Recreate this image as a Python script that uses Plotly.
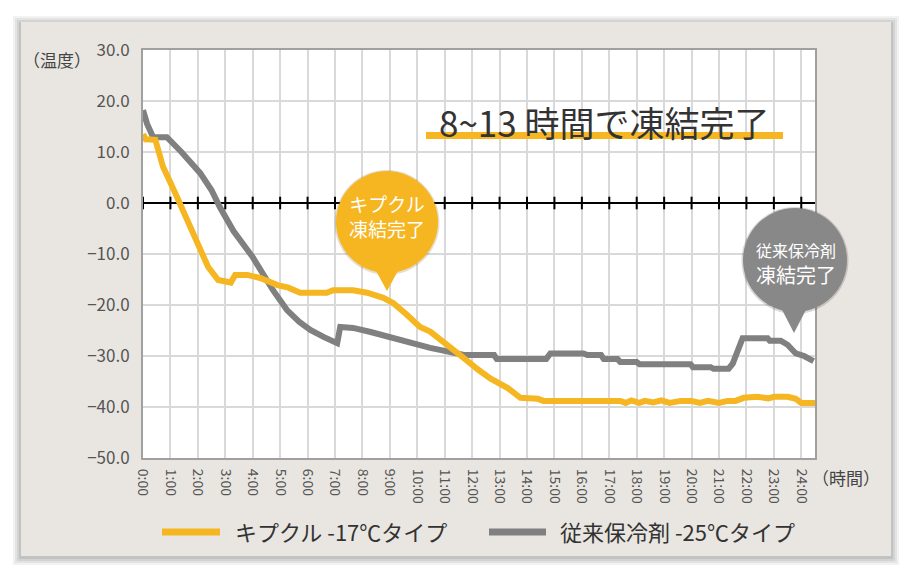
import plotly.graph_objects as go

# ---------------- data ----------------
kipukuru_hours = [0.0, 0.1, 0.45, 0.73, 1.17, 1.6, 2.08, 2.37, 2.74, 3.06, 3.2, 3.36, 3.8, 4.27,
                  4.9, 5.3, 5.73, 6.7, 6.93, 7.66, 8.17, 8.76, 9.12, 9.6, 10.1, 10.47, 11.0,
                  11.7, 12.2, 12.66, 13.3, 13.76, 14.4, 14.6, 17.4, 17.6, 17.8, 18.1, 18.3,
                  18.6, 18.9, 19.2, 19.6, 20.0, 20.3, 20.6, 21.0, 21.3, 21.6, 21.9, 22.4,
                  22.8, 23.0, 23.5, 23.8, 24.0, 24.5]
kipukuru_temps = [13.5, 12.5, 12.4, 7.1, 2.0, -3.3, -9.2, -12.5, -15.1, -15.5, -15.6, -14.1, -14.1,
                  -14.7, -16.1, -16.6, -17.6, -17.6, -17.1, -17.1, -17.6, -18.6, -19.6, -21.8,
                  -24.3, -25.2, -27.6, -30.4, -32.6, -34.4, -36.3, -38.2, -38.4, -38.8, -38.8,
                  -39.2, -38.7, -39.2, -38.8, -39.1, -38.7, -39.2, -38.8, -38.8, -39.2, -38.8,
                  -39.2, -38.8, -38.8, -38.2, -38.0, -38.3, -38.0, -38.0, -38.4, -39.2, -39.2]

conventional_hours = [0.0, 0.15, 0.37, 0.87, 1.4, 2.08, 2.5, 2.8, 3.3, 4.0, 4.74, 5.25, 5.7, 6.1,
                      6.6, 7.08, 7.19, 7.66, 8.3, 8.9, 9.5, 10.1, 10.47, 11.0, 11.7, 12.8, 12.9,
                      14.7, 14.85, 16.06, 16.2, 16.7, 16.8, 17.3, 17.4, 18.0, 18.1, 19.96, 20.05,
                      20.7, 20.8, 21.35, 21.5, 21.86, 22.77, 22.85, 23.25, 23.5, 23.8, 24.1, 24.45]
conventional_temps = [18.2, 15.5, 12.9, 12.9, 10.0, 5.9, 2.5, -0.8, -5.5, -10.6, -17.1, -21.0,
                      -23.3, -24.9, -26.3, -27.5, -24.3, -24.5, -25.3, -26.2, -27.0, -27.8, -28.4,
                      -29.0, -29.8, -29.8, -30.6, -30.6, -29.5, -29.5, -29.8, -29.8, -30.6, -30.6,
                      -31.2, -31.2, -31.6, -31.6, -32.2, -32.2, -32.5, -32.5, -31.5, -26.5, -26.5,
                      -27.0, -27.0, -27.8, -29.5, -30.0, -31.0]

x_tick_hours = list(range(0, 25))
x_tick_labels = [f"{h}:00" for h in x_tick_hours]
y_tick_values = [30, 20, 10, 0, -10, -20, -30, -40, -50]
y_tick_labels = ["30.0", "20.0", "10.0", "0.0", "\u221210.0", "\u221220.0", "\u221230.0",
                 "\u221240.0", "\u221250.0"]

series_names = ["キプクル -17℃タイプ", "従来保冷剤 -25℃タイプ"]
YELLOW = "#F5B621"
GRAY = "#808080"
FONT = "Noto Sans CJK JP"

# ---------------- geometry helpers (pixel -> paper) ----------------
W, H = 913, 577
L, R, T, B = 143, 815, 50, 458


def px(x):
    return (x - L) / (R - L)


def py(y):
    return (B - y) / (B - T)


def rect(x0, y0, x1, y1, **kw):
    return dict(type="rect", xref="paper", yref="paper", x0=px(x0), x1=px(x1),
                y0=py(y1), y1=py(y0), **kw)


def circle(cx, cy, r, **kw):
    return dict(type="circle", xref="paper", yref="paper", x0=px(cx - r), x1=px(cx + r),
                y0=py(cy + r), y1=py(cy - r), **kw)


def path(points, **kw):
    d = "M " + " L ".join(f"{px(a):.5f},{py(b):.5f}" for a, b in points) + " Z"
    return dict(type="path", xref="paper", yref="paper", path=d, **kw)


fig = go.Figure()

fig.add_trace(go.Scatter(x=conventional_hours, y=conventional_temps, mode="lines",
                         name=series_names[1], line=dict(color=GRAY, width=6), showlegend=False))
fig.add_trace(go.Scatter(x=kipukuru_hours, y=kipukuru_temps, mode="lines", name=series_names[0],
                         line=dict(color=YELLOW, width=6), showlegend=False))
# tick marks on the zero line
fig.add_trace(go.Scatter(x=x_tick_hours, y=[0] * len(x_tick_hours), mode="markers",
                         marker=dict(symbol="line-ns", size=9, line=dict(color="black", width=2)),
                         showlegend=False, hoverinfo="skip", cliponaxis=False))

shapes = []
# panel shadow
for i, op in enumerate([0.05, 0.06, 0.07, 0.08]):
    d = 8 - 2 * i
    shapes.append(rect(21 - d, 22 - d + 2, 891 + d, 556 + d + 1, fillcolor=f"rgba(0,0,0,{op})",
                       line=dict(width=0), layer="below"))
shapes.append(rect(21, 22, 891, 556, fillcolor="#E9E6E1", line=dict(width=0), layer="below"))
shapes.append(rect(L, T, R, B, fillcolor="white", line=dict(width=0), layer="below"))

# title underline bar
shapes.append(rect(426, 132, 783, 139, fillcolor=YELLOW, line=dict(width=0), layer="above"))

# yellow bubble
shapes.append(circle(387, 222.5, 52.5, fillcolor="rgba(110,70,0,0.18)", line=dict(width=0),
                     layer="above"))
shapes.append(path([(369, 258), (387, 291), (405, 258)], fillcolor=YELLOW, line=dict(width=0),
                   layer="above"))
shapes.append(circle(387, 222, 51, fillcolor=YELLOW, line=dict(width=0), layer="above"))

# gray bubble
shapes.append(circle(795, 260.5, 53.5, fillcolor="rgba(40,30,30,0.18)", line=dict(width=0),
                     layer="above"))
shapes.append(path([(777, 300), (794, 333), (811, 300)], fillcolor="#888888", line=dict(width=0),
                   layer="above"))
shapes.append(circle(795, 260, 52, fillcolor="#888888", line=dict(width=0), layer="above"))

# legend samples
shapes.append(dict(type="line", xref="paper", yref="paper", x0=px(162), x1=px(220), y0=py(532),
                   y1=py(532), line=dict(color=YELLOW, width=7)))
shapes.append(dict(type="line", xref="paper", yref="paper", x0=px(489), x1=px(546), y0=py(532),
                   y1=py(532), line=dict(color=GRAY, width=7)))

annotations = [
    dict(text="8~13 時間で凍結完了", x=px(604), y=py(121), font=dict(size=35, color="#333333")),
    dict(text="キプクル<br>凍結完了", x=px(387), y=py(216), font=dict(size=19, color="white")),
    dict(text="<span style='font-size:16px'>従来保冷剤</span><br>凍結完了", x=px(796), y=py(263),
         font=dict(size=20, color="white")),
    dict(text="（温度）", x=px(57), y=py(59), font=dict(size=17, color="#444444")),
    dict(text="（時間）", x=px(846), y=py(477), font=dict(size=17, color="#444444")),
    dict(text=series_names[0], x=px(233), y=py(531), xanchor="left",
         font=dict(size=22, color="#333333")),
    dict(text=series_names[1], x=px(558), y=py(531), xanchor="left",
         font=dict(size=22, color="#333333")),
]
for a in annotations:
    a.setdefault("xanchor", "center")
    a.update(xref="paper", yref="paper", yanchor="middle", showarrow=False)
    a["font"]["family"] = FONT

fig.update_layout(
    width=W, height=H,
    margin=dict(l=L, r=W - R, t=T, b=H - B, pad=0),
    paper_bgcolor="white", plot_bgcolor="white",
    font=dict(family=FONT, color="#555555"),
    shapes=shapes, annotations=annotations,
    showlegend=False,
)
fig.update_xaxes(range=[0, 24.5], tickvals=x_tick_hours, ticktext=x_tick_labels, tickangle=90,
                 tickfont=dict(size=14, color="#555555", family=FONT),
                 showgrid=True, gridcolor="#D9D9D9", gridwidth=2,
                 showline=True, linecolor="#A0A0A0", linewidth=2, mirror=True,
                 ticks="", ticklabelstandoff=6, zeroline=False)
fig.update_yaxes(range=[-50, 30], tickvals=y_tick_values, ticktext=y_tick_labels,
                 tickfont=dict(size=17, color="#555555", family=FONT),
                 showgrid=True, gridcolor="#D9D9D9", gridwidth=2,
                 showline=True, linecolor="#A0A0A0", linewidth=2, mirror=True,
                 ticks="", ticklabelstandoff=8,
                 zeroline=True, zerolinecolor="black", zerolinewidth=2)

fig.write_html("out.html", config={"displayModeBar": False},
               post_script="document.body.style.margin='0px';")
